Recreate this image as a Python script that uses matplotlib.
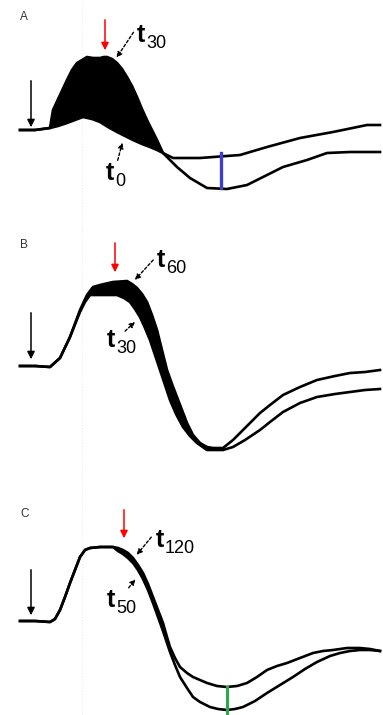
# three panels of paired traces (A, B, C) with shaded difference

import matplotlib.pyplot as plt
import numpy as np

plt.rcParams['font.family'] = ['Liberation Sans', 'DejaVu Sans']

# panel A  (x = time, y = trace level, measured downward from panel top)
a_x1 = [20, 35, 50, 53, 60, 67, 72, 77, 82, 87, 93, 100, 104, 107, 112, 117, 122, 127, 132, 137,
        142, 147, 152, 157, 163, 177, 190, 207, 227, 247, 267, 283, 307, 327, 350, 380]
a_y1 = [130, 130, 128, 110, 95, 80, 70, 63, 60, 57, 58, 58, 57, 57, 59, 63, 69, 77, 86, 97,
        109, 120, 130, 140, 153, 167, 178, 188, 189, 185, 175, 167, 160, 153, 152, 152]
a_x2 = [20, 35, 50, 58, 67, 75, 83, 92, 100, 108, 117, 125, 133, 142, 150, 157, 163, 173, 200,
        240, 267, 300, 333, 367, 380]
a_y2 = [130, 130, 128, 126, 123, 120, 117, 119, 122, 127, 132, 136, 140, 144, 147, 150, 153, 158, 158,
        155, 147, 138, 132, 125, 125]

# panel B
b_x1 = [20, 35, 50, 60, 70, 80, 87, 93, 100, 113, 127, 132, 137, 142, 147, 152, 157, 162, 167, 172,
        177, 182, 187, 193, 200, 207, 213, 223, 233, 245, 260, 270, 283, 300, 317, 335, 350, 365, 380]
b_y1 = [136, 136, 137, 128, 107, 80, 65, 57, 55, 52, 51, 54, 58, 64, 72, 85, 100, 120, 140, 154,
        167, 180, 193, 205, 213, 217, 218, 218, 210, 198, 183, 175, 165, 157, 150, 146, 143, 142, 140]
b_x2 = [20, 35, 50, 60, 70, 80, 85, 90, 100, 117, 124, 130, 135, 140, 145, 150, 155, 160, 165, 170,
        176, 183, 190, 197, 207, 215, 223, 233, 245, 260, 270, 283, 300, 317, 335, 350, 365, 380]
b_y2 = [136, 136, 137, 128, 107, 82, 72, 65, 65, 65, 68, 72, 79, 87, 98, 110, 125, 140, 155, 170,
        184, 197, 206, 213, 220, 220, 220, 217, 210, 200, 192, 182, 173, 167, 164, 162, 160, 159]

# panel C
c_x0 = [20, 35, 50, 55, 60, 65, 70, 75, 80, 85, 90, 100, 113]
c_y0 = [151, 151, 152, 149, 140, 127, 113, 100, 87, 80, 78, 77, 77]
c_x1 = [118, 123, 128, 133, 138, 143, 148, 153, 158, 163, 167, 170, 175, 180, 187, 193, 200, 207,
        217, 227, 237, 247, 257, 267, 277, 287, 300, 313, 323, 333, 347, 360, 370, 380]
c_y1 = [78, 80, 83, 88, 95, 103, 114, 127, 140, 153, 167, 177, 188, 197, 203, 207, 210, 213,
        216, 217, 216, 213, 207, 200, 196, 193, 188, 183, 181, 180, 178, 178, 179, 181]
c_x2 = [118, 123, 128, 133, 138, 143, 148, 153, 158, 163, 167, 170, 175, 180, 187, 193, 200, 210,
        218, 227, 235, 243, 255, 267, 280, 293, 305, 317, 330, 340, 350, 360, 370, 380]
c_y2 = [81, 84, 88, 93, 100, 109, 120, 133, 147, 161, 173, 182, 195, 207, 218, 227, 232, 237,
        239, 240, 239, 237, 231, 223, 215, 207, 199, 192, 186, 183, 181, 180, 180, 181]

W, H = 383, 715
fig = plt.figure(figsize=(W / 100, H / 100), dpi=100)

panels = [(0, 230), (230, 240), (470, 245)]  # top, height in px
axes = []
for top, h in panels:
    ax = fig.add_axes([0, 1 - (top + h) / H, 1, h / H])
    ax.set_xlim(0, W)
    ax.set_ylim(h, 0)
    ax.axis('off')
    ax.axvline(82, color='#ececec', lw=0.8, ls=':', zorder=0)
    axes.append(ax)

lw = 1.9


def band(ax, xu, yu, xl, yl, x0, x1):
    xu, yu, xl, yl = map(np.array, (xu, yu, xl, yl))
    mu = (xu >= x0) & (xu <= x1)
    ml = (xl >= x0) & (xl <= x1)
    px = np.concatenate([xu[mu], xl[ml][::-1]])
    py = np.concatenate([yu[mu], yl[ml][::-1]])
    ax.fill(px, py, color='black', lw=0, zorder=1)


def arrow(ax, x, y0, y1, col):
    ax.annotate('', xy=(x, y1), xytext=(x, y0),
                arrowprops=dict(arrowstyle='-|>', color=col, lw=1.1, mutation_scale=11))


def dashed(ax, start, end):
    ax.annotate('', xy=end, xytext=start,
                arrowprops=dict(arrowstyle='-|>', color='black', lw=1, ls=(0, (2, 1.5)),
                                mutation_scale=8))


def tlabel(ax, x, y, sub):
    ax.text(x, y, 't', fontsize=18, fontweight='bold', ha='left', va='baseline')
    ax.text(x + 9, y + 6, sub, fontsize=13, ha='left', va='baseline')


# A
ax = axes[0]
band(ax, a_x1, a_y1, a_x2, a_y2, 50, 163)
ax.plot(a_x1, a_y1, color='black', lw=lw)
ax.plot(a_x2, a_y2, color='black', lw=lw)
ax.plot([221, 221], [153, 188], color='#3c3fc8', lw=2.4)
ax.text(20, 20, 'A', fontsize=8.5, color='#333333')
arrow(ax, 31, 78, 130, 'black')
arrow(ax, 105, 17, 53, 'red')
tlabel(ax, 137, 42, '30')
dashed(ax, (135, 30), (115, 60))
tlabel(ax, 106, 180, '0')
dashed(ax, (117, 163), (123, 140))

# B
ax = axes[1]
band(ax, b_x1, b_y1, b_x2, b_y2, 80, 223)
ax.plot(b_x1, b_y1, color='black', lw=lw)
ax.plot(b_x2, b_y2, color='black', lw=lw)
ax.text(20, 18, 'B', fontsize=8.5, color='#333333')
arrow(ax, 31, 80, 132, 'black')
arrow(ax, 115, 10, 45, 'red')
tlabel(ax, 157, 37, '60')
dashed(ax, (155, 28), (133, 52))
tlabel(ax, 107, 117, '30')
dashed(ax, (123, 103), (137, 90))

# C
ax = axes[2]
cx1, cy1 = c_x0 + c_x1, c_y0 + c_y1
cx2, cy2 = c_x0 + c_x2, c_y0 + c_y2
band(ax, cx1, cy1, cx2, cy2, 113, 170)
ax.plot(cx1, cy1, color='black', lw=lw)
ax.plot(cx2, cy2, color='black', lw=lw)
ax.plot([227, 227], [217, 245], color='#2aa84a', lw=2.2)
ax.text(20, 47, 'C', fontsize=8.5, color='#333333')
arrow(ax, 31, 97, 148, 'black')
arrow(ax, 124, 37, 71, 'red')
tlabel(ax, 156, 77, '120')
dashed(ax, (153, 65), (135, 87))
tlabel(ax, 107, 137, '50')
dashed(ax, (127, 120), (137, 107))

fig.savefig('out.png', dpi=100)
